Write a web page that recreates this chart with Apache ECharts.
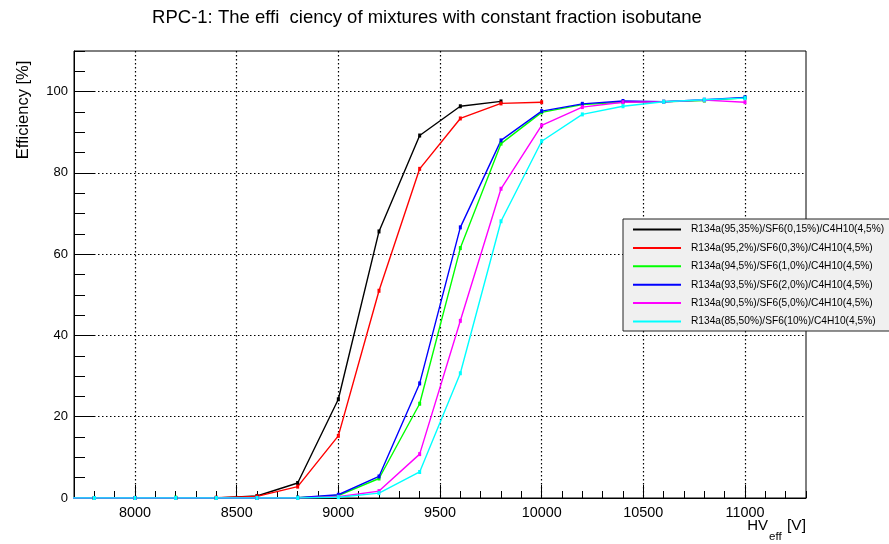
<!DOCTYPE html>
<html><head><meta charset="utf-8">
<script src="https://cdn.jsdelivr.net/npm/echarts@6/dist/echarts.min.js"></script>
<style>html,body{margin:0;padding:0;background:#fff}#c{width:889px;height:544px}</style>
</head><body><div id="c"></div>
<script>
// ---- data ----
const hv = [7600, 7800, 8000, 8200, 8400, 8600, 8800, 9000, 9200, 9400, 9600, 9800, 10000, 10200, 10400, 10600, 10800, 11000];
const seriesNames = [
  'R134a(95,35%)/SF6(0,15%)/C4H10(4,5%)',
  'R134a(95,2%)/SF6(0,3%)/C4H10(4,5%)',
  'R134a(94,5%)/SF6(1,0%)/C4H10(4,5%)',
  'R134a(93,5%)/SF6(2,0%)/C4H10(4,5%)',
  'R134a(90,5%)/SF6(5,0%)/C4H10(4,5%)',
  'R134a(85,50%)/SF6(10%)/C4H10(4,5%)'
];
const effBlack   = [0, 0, 0, 0, 0, 0.5, 3.7, 24.3, 65.6, 89.2, 96.4, 97.6];
const effRed     = [0, 0, 0, 0, 0.1, 0.4, 2.8, 15.3, 51.0, 81.0, 93.4, 97.1, 97.4];
const effGreen   = [0, 0, 0, 0.1, 0, 0, 0.1, 0.6, 4.8, 23.2, 61.5, 87.2, 94.9, 96.8, 97.4, 97.5, 97.8, 98.5];
const effBlue    = [0, 0, 0, 0, 0, 0, 0.1, 0.8, 5.3, 28.2, 66.6, 88.0, 95.2, 97.0, 97.7, 97.5, 98.0, 98.6];
const effMagenta = [0, 0, 0, 0, 0, 0, 0, 0.3, 1.7, 10.8, 43.6, 76.1, 91.7, 96.2, 97.4, 97.5, 97.9, 97.4];
const effCyan    = [0, 0, 0, 0, 0, 0, 0, 0.2, 1.2, 6.4, 30.7, 68.1, 87.8, 94.4, 96.4, 97.5, 98.0, 98.4];
const colors = ['#000000', '#ff0000', '#00ff00', '#0000ff', '#ff00ff', '#00ffff'];
const xMajorTicks = [8000, 8500, 9000, 9500, 10000, 10500, 11000];
const yMajorTicks = [0, 20, 40, 60, 80, 100];
// ---------------

const allEff = [effBlack, effRed, effGreen, effBlue, effMagenta, effCyan];
const FONT = 'Liberation Sans, Arial, sans-serif';
const chart = echarts.init(document.getElementById('c'), null, {renderer: 'canvas'});

const series = allEff.map((vals, k) => ({
  name: seriesNames[k],
  type: 'line',
  xAxisIndex: 0,
  yAxisIndex: 0,
  data: vals.map((v, i) => [hv[i], v]),
  symbol: 'rect',
  symbolSize: [3, 4],
  showSymbol: true,
  clip: true,
  color: colors[k],
  lineStyle: {width: 1.4, color: colors[k]},
  itemStyle: {color: colors[k]},
  emphasis: {disabled: true},
  animation: false
}));

const dotted = {color: '#000', width: 1.2, type: [1.5, 2.5]};

chart.setOption({
  animation: false,
  backgroundColor: '#ffffff',
  grid: {left: 74, top: 51, right: 83, bottom: 46, show: true, borderColor: '#000', borderWidth: 1, backgroundColor: 'transparent'},
  xAxis: [
    {type: 'value', min: 7700, max: 11300, interval: 100, position: 'bottom',
     axisLine: {show: true, onZero: false, lineStyle: {color: '#000', width: 1}},
     axisTick: {show: true, inside: true, length: 7, lineStyle: {color: '#000', width: 1}},
     axisLabel: {show: false}, splitLine: {show: false}},
    {type: 'value', min: 7700, max: 11300, position: 'bottom',
     axisLine: {show: false, onZero: false},
     axisTick: {show: true, inside: true, length: 13, customValues: xMajorTicks, lineStyle: {color: '#000', width: 1}},
     axisLabel: {show: true, customValues: xMajorTicks, formatter: v => String(v), color: '#000', fontSize: 14.4, fontFamily: FONT, margin: 8},
     splitLine: {show: true, lineStyle: dotted}}
  ],
  yAxis: [
    {type: 'value', min: 0, max: 110, interval: 5, position: 'left',
     axisLine: {show: true, onZero: false, lineStyle: {color: '#000', width: 1}},
     axisTick: {show: true, inside: true, length: 11, lineStyle: {color: '#000', width: 1}},
     axisLabel: {show: false}, splitLine: {show: false}},
    {type: 'value', min: 0, max: 110, position: 'left',
     axisLine: {show: false, onZero: false},
     axisTick: {show: true, inside: true, length: 21, customValues: yMajorTicks, lineStyle: {color: '#000', width: 1}},
     axisLabel: {show: true, customValues: yMajorTicks, formatter: v => String(v), color: '#000', fontSize: 13, fontFamily: FONT, margin: 6},
     splitLine: {show: true, lineStyle: dotted}}
  ],
  legend: {
    orient: 'vertical', left: 623, top: 219,
    backgroundColor: '#f0f0f0', borderColor: '#222', borderWidth: 1,
    padding: [4, 6, 3, 10],
    icon: 'rect', itemWidth: 48, itemHeight: 2, itemGap: 5.4,
    textStyle: {fontSize: 10.2, fontFamily: FONT, color: '#000', lineHeight: 13, padding: [0, 0, 0, 5]},
    data: seriesNames,
    selectedMode: false
  },
  graphic: [
    {type: 'text', x: 427, y: 18, style: {text: 'RPC-1: The effi  ciency of mixtures with constant fraction isobutane', font: '18.5px ' + FONT, fill: '#000', align: 'center', verticalAlign: 'middle'}},
    {type: 'text', x: 23, y: 110, rotation: Math.PI / 2, style: {text: 'Efficiency [%]', font: '16.5px ' + FONT, fill: '#000', align: 'center', verticalAlign: 'middle'}},
    {type: 'text', x: 768, y: 526, style: {text: 'HV', font: '15px ' + FONT, fill: '#000', align: 'right', verticalAlign: 'middle'}},
    {type: 'text', x: 769, y: 537, style: {text: 'eff', font: '11.5px ' + FONT, fill: '#000', align: 'left', verticalAlign: 'middle'}},
    {type: 'text', x: 806, y: 526, style: {text: '[V]', font: '15.5px ' + FONT, fill: '#000', align: 'right', verticalAlign: 'middle'}}
  ],
  series: series
});
</script>
</body></html>
